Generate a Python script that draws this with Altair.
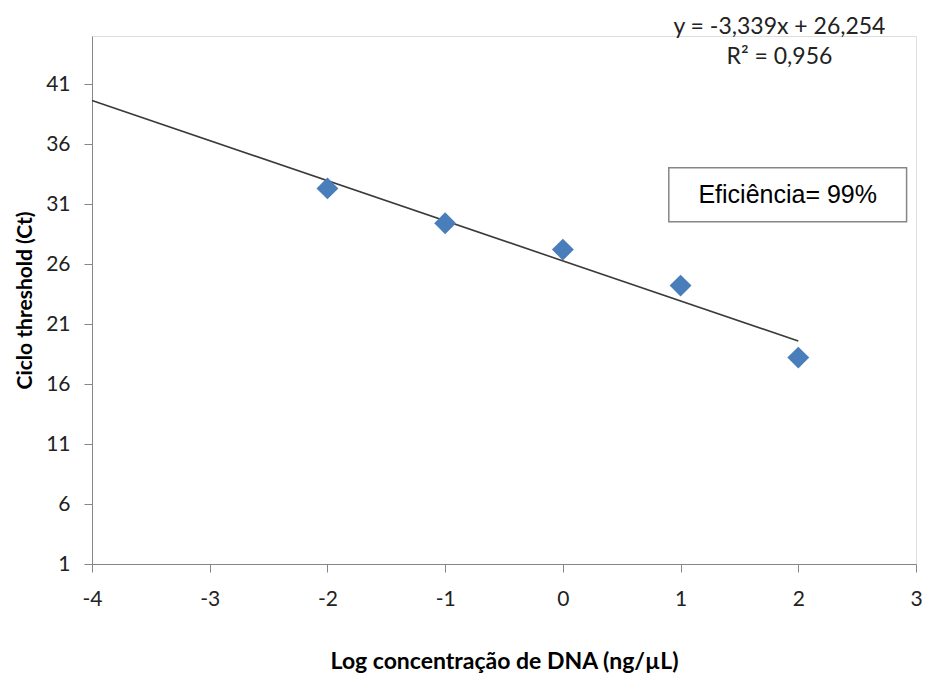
import altair as alt
import pandas as pd

log_conc = [-2, -1, 0, 1, 2]
ct_values = [32.3, 29.4, 27.2, 24.2, 18.2]
x_ticks = [-4, -3, -2, -1, 0, 1, 2, 3]
y_ticks = [1, 6, 11, 16, 21, 26, 31, 36, 41]
eq_lines = ["y = -3,339x + 26,254", "R² = 0,956"]
box_label = "Eficiência= 99%"

df = pd.DataFrame({"x": log_conc, "y": ct_values})

xscale = alt.Scale(domain=[-4, 3], nice=False, zero=False)
yscale = alt.Scale(domain=[1, 45], nice=False, zero=False)

axis_common = dict(
    grid=False, domainColor="#868686", tickColor="#868686", tickSize=8,
    labelFont="Lato", labelFontSize=21, labelColor="#222222",
    titleFont="Lato", titleFontWeight="bold", titleColor="#000000",
    labelExpr="'' + datum.value", labelFlush=False, labelOverlap=False,
)

x_enc = alt.X("x:Q", scale=xscale,
              axis=alt.Axis(values=x_ticks, title="Log concentração de DNA (ng/µL)",
                            labelPadding=16, titlePadding=41, titleFontSize=23, **axis_common))
y_enc = alt.Y("y:Q", scale=yscale,
              axis=alt.Axis(values=y_ticks, title="Ciclo threshold (Ct)",
                            labelPadding=14, titlePadding=10, titleFontSize=21, **axis_common))

points = alt.Chart(df).mark_point(shape="diamond", filled=True, size=480,
                                  color="#4A7EBB", opacity=1).encode(x=x_enc, y=y_enc)

trend = alt.Chart(df).transform_regression(
    "x", "y", extent=[-4, 2]
).mark_line(color="#3a3a3a", strokeWidth=1.6).encode(x=alt.X("x:Q", scale=xscale),
                                                     y=alt.Y("y:Q", scale=yscale))

eq_df = pd.DataFrame({"x": [1.84, 1.84], "y": [45.75, 43.25], "t": eq_lines})
eq = alt.Chart(eq_df).mark_text(font="Lato", fontSize=23, color="#222222",
                                align="center", baseline="middle").encode(
    x=alt.X("x:Q", scale=xscale), y=alt.Y("y:Q", scale=yscale), text="t:N")

box_df = pd.DataFrame({"x1": [0.9], "x2": [2.92], "y1": [34.03], "y2": [29.53],
                       "xc": [1.91], "yc": [31.75], "t": [box_label]})
box = alt.Chart(box_df).mark_rect(fill="white", stroke="#868686", strokeWidth=1.5).encode(
    x=alt.X("x1:Q", scale=xscale), x2="x2:Q",
    y=alt.Y("y1:Q", scale=yscale), y2="y2:Q")
box_text = alt.Chart(box_df).mark_text(font="Liberation Sans", fontSize=25, color="#000000",
                                       align="center", baseline="middle").encode(
    x=alt.X("xc:Q", scale=xscale), y=alt.Y("yc:Q", scale=yscale), text="t:N")

chart = alt.layer(trend, points, eq, box, box_text).properties(
    width=824, height=528,
    autosize=alt.AutoSizeParams(type="none"),
    padding={"left": 84, "top": 28, "right": 8, "bottom": 114},
).configure_view(stroke=None).configure(background="white")

chart.save("out.html", embed_options={"renderer": "svg", "actions": False})
